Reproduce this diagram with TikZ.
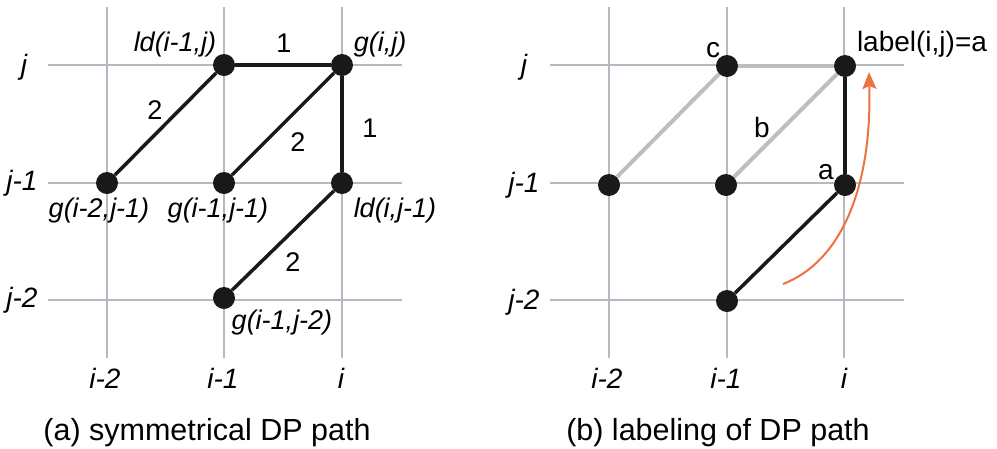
\documentclass[tikz,border=0pt]{standalone}
\usepackage{fontspec}
\setmainfont{Liberation Sans}
\usetikzlibrary{arrows.meta}
\definecolor{gridc}{HTML}{B4B9C3}
\definecolor{edgegrey}{HTML}{BEBEBE}
\definecolor{arrowc}{HTML}{EE7240}
\begin{document}
\begin{tikzpicture}[x=1pt,y=-1pt,
  txt/.style={inner sep=0pt, font=\fontsize{27}{30}\selectfont},
  bigtxt/.style={inner sep=0pt, font=\fontsize{28}{32}\selectfont},
  captxt/.style={inner sep=0pt, font=\fontsize{30.5}{34}\selectfont},
  itx/.style={inner sep=0pt, font=\fontsize{27}{30}\selectfont\itshape},
  axtx/.style={inner sep=0pt, font=\fontsize{28}{30}\selectfont\itshape},
  dot/.style={circle, fill=black!90, inner sep=0pt, minimum size=22pt},
  gridline/.style={draw=gridc, line width=2pt},
  blk/.style={draw=black!90, line width=3.5pt},
  gry/.style={draw=edgegrey, line width=4pt}]
\useasboundingbox (0,0) rectangle (997,448);
% ---------- panel (a) ----------
\foreach \x in {107,224,342} \draw[gridline] (\x,7) -- (\x,358);
\foreach \y in {65,183,300} \draw[gridline] (48,\y) -- (402,\y);
\node[dot] (a1) at (224,65) {};
\node[dot] (a2) at (342,65) {};
\node[dot] (a3) at (107,183) {};
\node[dot] (a4) at (224,183) {};
\node[dot] (a5) at (342,183) {};
\node[dot] (a6) at (224,298) {};
\draw[blk] (a3) -- (a1);
\draw[blk] (a1) -- (a2);
\draw[blk] (a4) -- (a2);
\draw[blk] (a2) -- (a5);
\draw[blk] (a5) -- (a6);
\node[axtx] (ay1) at (24,67) {j};
\node[axtx] (ay2) at (22,183) {j-1};
\node[axtx] (ay3) at (22,300) {j-2};
\node[axtx] (ax1) at (105,378) {i-2};
\node[axtx] (ax2) at (223,378) {i-1};
\node[axtx] (ax3) at (341,378) {i};
\node[itx] (la1) at (175,45) {ld(i-1,j)};
\node[itx] (la2) at (380,45) {g(i,j)};
\node[itx] (la3) at (99,211) {g(i-2,j-1)};
\node[itx] (la4) at (218,211) {g(i-1,j-1)};
\node[itx] (la5) at (395,211) {ld(i,j-1)};
\node[itx] (la6) at (282,323) {g(i-1,j-2)};
\node[txt] (w1) at (284,43) {1};
\node[txt] (w2) at (155,110) {2};
\node[txt] (w3) at (298,142) {2};
\node[txt] (w4) at (370,128) {1};
\node[txt] (w5) at (293,262) {2};
\node[captxt] (capa) at (207,433) {(a) symmetrical DP path};
% ---------- panel (b) ----------
\foreach \x in {609,727,844} \draw[gridline] (\x,7) -- (\x,358);
\foreach \y in {65,183,300} \draw[gridline] (550,\y) -- (904,\y);
\node[dot] (b1) at (727,66) {};
\node[dot] (b2) at (845,66) {};
\node[dot] (b3) at (609,185) {};
\node[dot] (b4) at (726,185) {};
\node[dot] (b5) at (845,185) {};
\node[dot] (b6) at (727,301) {};
\draw[gry] (b3) -- (b1);
\draw[gry] (b1) -- (b2);
\draw[gry] (b4) -- (b2);
\draw[blk] (b2) -- (b5);
\draw[blk] (b5) -- (b6);
\node[axtx] (by1) at (524,67) {j};
\node[axtx] (by2) at (524,185) {j-1};
\node[axtx] (by3) at (524,302) {j-2};
\node[axtx] (bx1) at (607,378) {i-2};
\node[axtx] (bx2) at (726,378) {i-1};
\node[axtx] (bx3) at (844,378) {i};
\node[bigtxt] (lc) at (713,50) {c};
\node[bigtxt] (lb) at (762,127) {b};
\node[bigtxt] (la) at (826,172) {a};
\node[bigtxt] (lab) at (922,44) {label(i,j)=a};
\coordinate (arS) at (783,284);
\coordinate (arE) at (869,72);
\draw[draw=arrowc, line width=2pt, -{Stealth[length=17pt,width=14pt,inset=3pt]}]
  (arS) .. controls (840,262) and (872,190) .. (arE);
\node[captxt] (capb) at (718,433) {(b) labeling of DP path};
\end{tikzpicture}
\end{document}
